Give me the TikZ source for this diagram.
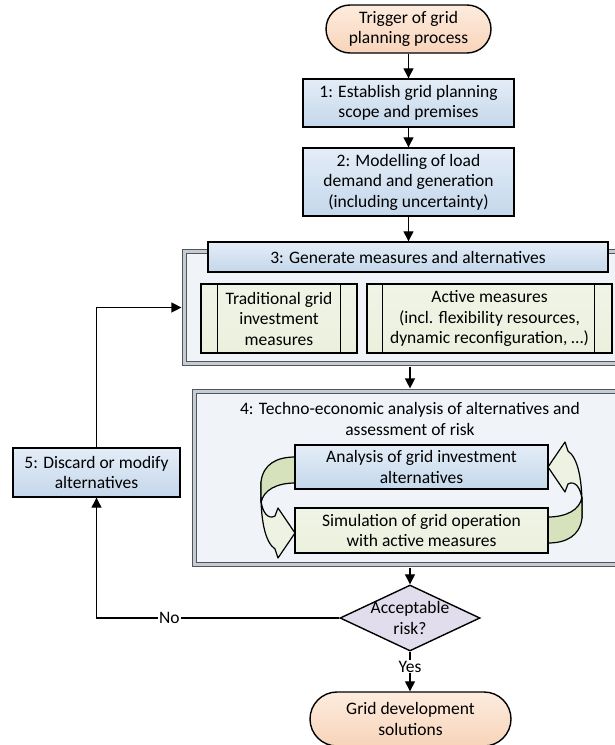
\documentclass[tikz,border=0pt]{standalone}
\usepackage{fontspec}
\setmainfont{Carlito}
\usetikzlibrary{shapes.geometric,arrows.meta,calc}
\definecolor{blueTop}{RGB}{228,237,247}
\definecolor{blueBot}{RGB}{196,215,235}
\definecolor{peachTop}{RGB}{253,236,222}
\definecolor{peachBot}{RGB}{248,212,186}
\definecolor{greenBox}{RGB}{235,240,222}
\definecolor{greenTop}{RGB}{240,244,230}
\definecolor{greenDark}{RGB}{214,226,188}
\definecolor{greenLight}{RGB}{238,242,226}
\definecolor{lilac}{RGB}{226,221,236}
\definecolor{frameFill}{RGB}{240,243,248}
\definecolor{frameLine}{RGB}{85,85,85}
\definecolor{frameGap}{RGB}{196,204,214}
\tikzset{
  txt/.style={font=\fontsize{17.5pt}{20.5pt}\selectfont, align=center, inner sep=0pt},
  bluebox/.style={txt, draw=black, line width=1.4pt, rectangle, top color=blueTop, bottom color=blueBot},
  greenbox/.style={txt, draw=black, line width=1.4pt, rectangle, top color=greenTop, bottom color=greenBox},
  terminal/.style={txt, draw=black, line width=1.4pt, rectangle, top color=peachTop, bottom color=peachBot},
  framebox/.style={draw=frameLine, double=frameGap, double distance=2.2pt, line width=1.2pt, fill=frameFill, rectangle, inner sep=0pt},
  decision/.style={draw=black, line width=1.4pt, diamond, fill=lilac, inner sep=0pt},
  arrow/.style={line width=1.3pt, -{Triangle[width=10pt,length=10pt]}},
  lbl/.style={txt, fill=white, inner sep=1pt},
  ribbon/.style={draw=black, line width=1.2pt, line join=round},
}
\newcommand{\uturnarrow}{%
  \path[ribbon, fill=greenLight] (582,518) .. controls (583,480) and (578,458) .. (568,451) -- (565,442) -- (548,467) -- (565,492) -- (568,484) .. controls (575,480) and (581,488) .. (582,500) -- cycle;
  \path[ribbon, fill=greenDark] (548,517) .. controls (566,517) and (580,510) .. (582,497) -- (582,518) .. controls (580,536) and (566,543) .. (548,543) -- cycle;
}
\begin{document}
\begin{tikzpicture}[x=1pt,y=-1pt]
\path[use as bounding box] (0,0) rectangle (615,745);

% start / first boxes
\node[terminal, rounded corners=24pt, minimum width=165pt, minimum height=48pt] (trig) at (408.5,29) {Trigger of grid\\planning process};
\node[bluebox, minimum width=211pt, minimum height=48pt] (b1) at (408.5,103) {1: Establish grid planning\\scope and premises};
\node[bluebox, minimum width=211pt, minimum height=68pt] (b2) at (408.5,182) {2: Modelling of load\\demand and generation\\(including uncertainty)};

% frame 3
\node[framebox, minimum width=535.5pt, minimum height=112pt] (f3) at (452.25,307.5) {};
\node[bluebox, minimum width=400pt, minimum height=30pt] (h3) at (408,257) {3: Generate measures and alternatives};
\node[greenbox, minimum width=156pt, minimum height=69pt] (trad) at (279,318.5) {Traditional grid\\investment\\measures};
\draw[line width=1.4pt] ([xshift=17pt]trad.north west) -- ([xshift=17pt]trad.south west);
\draw[line width=1.4pt] ([xshift=-17pt]trad.north east) -- ([xshift=-17pt]trad.south east);
\node[greenbox, minimum width=245pt, minimum height=69pt] (act) at (489.5,318.5) {Active measures\\(incl. flexibility resources,\\dynamic reconfiguration, …)};
\draw[line width=1.4pt] ([xshift=16pt]act.north west) -- ([xshift=16pt]act.south west);
\draw[line width=1.4pt] ([xshift=-18pt]act.north east) -- ([xshift=-18pt]act.south east);

% frame 4
\node[framebox, minimum width=525.5pt, minimum height=173pt] (f4) at (457.25,478) {};
\node[txt] (t4) at (410,419) {4: Techno-economic analysis of alternatives and\\assessment of risk};
\uturnarrow
\begin{scope}[rotate around={180:(421.5,500)}]
\uturnarrow
\end{scope}
\node[bluebox, minimum width=253pt, minimum height=44pt] (ana) at (421.5,467) {Analysis of grid investment\\alternatives};
\node[greenbox, minimum width=253pt, minimum height=45pt] (sim) at (421.5,530.5) {Simulation of grid operation\\with active measures};

% decision and end
\node[decision, minimum width=140pt, minimum height=66pt] (dec) at (410,618) {};
\node[txt] (dect) at (dec) {Acceptable\\risk?};
\node[terminal, rounded corners=27pt, minimum width=201pt, minimum height=54pt] (endn) at (410.5,719) {Grid development\\solutions};

% box 5
\node[bluebox, minimum width=167pt, minimum height=49pt] (b5) at (96.5,472.5) {5: Discard or modify\\alternatives};

% connectors
\draw[arrow] (trig.south) -- (b1.north);
\draw[arrow] (b2.north |- b1.south) -- (b2.north);
\draw[arrow] (b2.south) -- (h3.north -| b2.south);
\draw[arrow, shorten <=2.5pt, shorten >=2.5pt] (f3.south -| dec.north) -- (f4.north -| dec.north);
\draw[arrow, shorten <=2.5pt] (f4.south -| dec.north) -- (dec.north);
\draw[arrow] (dec.south) -- node[lbl, pos=0.38] (yes) {Yes} (endn.north -| dec.south);
\draw[arrow] (dec.west) -| node[lbl, pos=0.35] (no) {No} (b5.south);
\draw[arrow, shorten >=2.5pt] (b5.north) |- (f3.west);
\end{tikzpicture}
\end{document}
